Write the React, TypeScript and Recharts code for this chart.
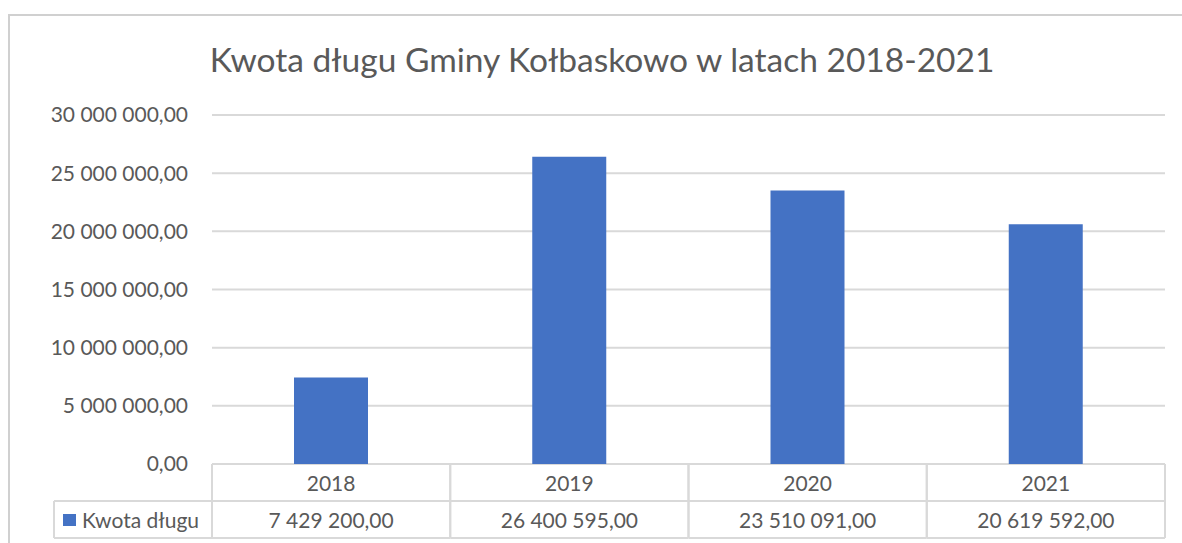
import React from "react";
import { BarChart, Bar, XAxis, YAxis, CartesianGrid } from "recharts";

const chartTitle = "Kwota długu Gminy Kołbaskowo w latach 2018-2021";
const seriesName = "Kwota długu";
const years = ["2018", "2019", "2020", "2021"];
const debt = [7429200, 26400595, 23510091, 20619592];
const yTicks = [0, 5000000, 10000000, 15000000, 20000000, 25000000, 30000000];

const data = years.map((year, i) => ({ year, debt: debt[i] }));

const W = 1182;
const H = 543;
const MARGIN = { top: 115, right: 17, left: 12, bottom: 5 };
const Y_AXIS_W = 200;
const X_AXIS_H = 74;
const PLOT_W = W - MARGIN.left - MARGIN.right - Y_AXIS_W;
const ROW_H = 37;
const LEGEND_LEFT = 54;

const GRID = "#d9d9d9";
const TEXT = "#595959";
const BLUE = "#4472C4";
const FONT = "Lato, 'Open Sans', sans-serif";
const FS = 21;

const fmt = (v: number) =>
  Math.round(v)
    .toString()
    .replace(/\B(?=(\d{3})+(?!\d))/g, " ") + ",00";

// data table under the plot, drawn one column per category tick
const TableTick = (props: any) => {
  const { x, y, payload, index } = props;
  const colW = PLOT_W / years.length;
  const left = x - colW / 2;
  const right = x + colW / 2;
  const top = y;
  const mid = y + ROW_H;
  const bot = y + ROW_H * 2;
  const first = index === 0;
  const value = debt[years.indexOf(payload.value)];
  return (
    <g>
      <line x1={left} y1={top} x2={left} y2={bot} stroke={GRID} strokeWidth={2} />
      <line x1={right} y1={top} x2={right} y2={bot} stroke={GRID} strokeWidth={2} />
      <line
        x1={first ? LEGEND_LEFT : left}
        y1={mid}
        x2={right}
        y2={mid}
        stroke={GRID}
        strokeWidth={2}
      />
      <line
        x1={first ? LEGEND_LEFT : left}
        y1={bot}
        x2={right}
        y2={bot}
        stroke={GRID}
        strokeWidth={2}
      />
      <text
        x={x}
        y={top + ROW_H / 2}
        textAnchor="middle"
        dominantBaseline="central"
        fill={TEXT}
        fontSize={FS}
        fontFamily={FONT}
      >
        {payload.value}
      </text>
      <text
        x={x}
        y={mid + ROW_H / 2}
        textAnchor="middle"
        dominantBaseline="central"
        fill={TEXT}
        fontSize={FS}
        fontFamily={FONT}
      >
        {fmt(value)}
      </text>
      {first && (
        <g>
          <line x1={LEGEND_LEFT} y1={mid} x2={LEGEND_LEFT} y2={bot} stroke={GRID} strokeWidth={2} />
          <rect x={63} y={mid + 13} width={13} height={12} fill={BLUE} />
          <text
            x={82}
            y={mid + ROW_H / 2}
            dominantBaseline="central"
            fill={TEXT}
            fontSize={FS}
            fontFamily={FONT}
          >
            {seriesName}
          </text>
        </g>
      )}
    </g>
  );
};

export default function App() {
  return (
    <div
      style={{
        position: "absolute",
        left: 0,
        top: 0,
        width: W,
        height: H,
        overflow: "hidden",
      }}
    >
      <BarChart width={W} height={H} data={data} margin={MARGIN}>
        {/* chart frame, cut off at the right and bottom */}
        <line x1={8} y1={15} x2={W} y2={15} stroke="#d0d0d0" strokeWidth={2} />
        <line x1={9} y1={15} x2={9} y2={H} stroke="#d0d0d0" strokeWidth={2} />
        <text
          x={602}
          y={72}
          textAnchor="middle"
          fill={TEXT}
          fontSize={33.5}
          fontFamily={FONT}
        >
          {chartTitle}
        </text>
        <CartesianGrid vertical={false} stroke={GRID} strokeWidth={2} />
        <XAxis
          dataKey="year"
          height={X_AXIS_H}
          axisLine={false}
          tickLine={false}
          tickSize={0}
          tickMargin={0}
          interval={0}
          tick={<TableTick />}
        />
        <YAxis
          width={Y_AXIS_W}
          domain={[0, 30000000]}
          ticks={yTicks}
          axisLine={false}
          tickLine={false}
          tickSize={6}
          tickMargin={18}
          tickFormatter={fmt}
          tick={{ fill: TEXT, fontSize: FS, fontFamily: FONT }}
        />
        <Bar
          dataKey="debt"
          name={seriesName}
          fill={BLUE}
          barSize={74}
          isAnimationActive={false}
        />
      </BarChart>
    </div>
  );
}
